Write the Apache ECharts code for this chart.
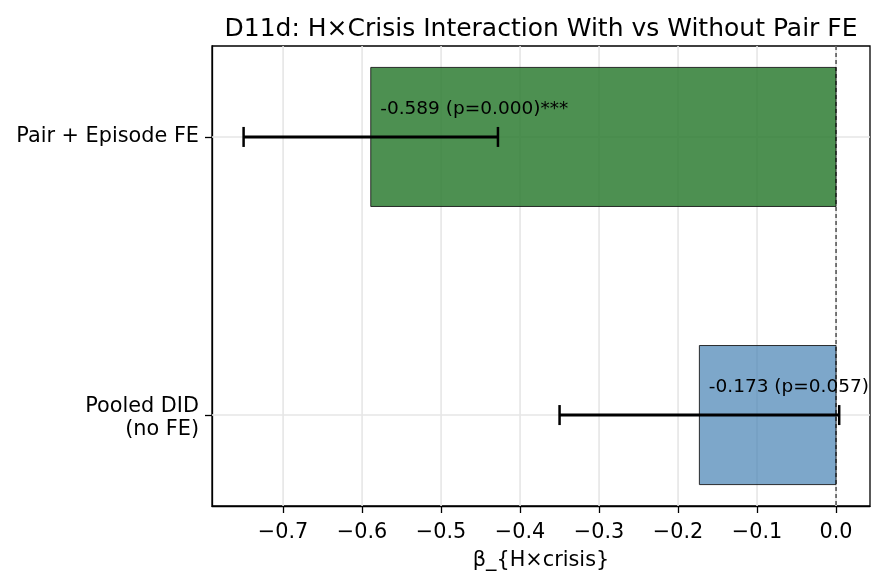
<!DOCTYPE html>
<html><head><meta charset="utf-8">
<script src="https://cdn.jsdelivr.net/npm/echarts@6/dist/echarts.min.js"></script>
<style>html,body{margin:0;padding:0;background:#fff}#c{width:886px;height:585px}</style>
</head><body><div id="c"></div>
<script>
const categories = ['Pooled DID\n(no FE)', 'Pair + Episode FE'];
const estimates = [-0.173, -0.589];
const ciLow = [-0.350, -0.750];
const ciHigh = [0.004, -0.428];
const pValues = [0.057, 0.000];
const stars = ['', '***'];
const barColors = ['rgba(70,130,180,0.7)', 'rgba(46,125,50,0.85)'];
const xTicks = [-0.7, -0.6, -0.5, -0.4, -0.3, -0.2, -0.1, 0.0];
const yTicks = [0, 1];

const FONT = 'DejaVu Sans';
const chart = echarts.init(document.getElementById('c'), null, {renderer: 'canvas'});
const fmtX = v => (Math.abs(v) < 1e-9 ? '0.0' : v.toFixed(1).replace('-', '\u2212'));
const fmtY = v => {
  const lines = categories[Math.round(v)].split('\n');
  if (lines.length === 1) return '{s|' + lines[0] + '}';
  return '{e| }\n' + lines.map(l => '{s|' + l + '}').join('\n');
};

const option = {
  animation: false,
  backgroundColor: '#fff',
  title: {
    text: 'D11d: H\u00d7Crisis Interaction With vs Without Pair FE',
    left: 536, top: 12, textAlign: 'center',
    textStyle: {fontFamily: FONT, fontSize: 25, fontWeight: 'normal', color: '#000'}
  },
  grid: {left: 212, right: 16, top: 46, bottom: 79, show: true, borderColor: '#000', borderWidth: 1.3, backgroundColor: 'transparent'},
  xAxis: {
    type: 'value', min: -0.79, max: 0.043,
    name: '\u03b2_{H\u00d7crisis}', nameLocation: 'middle', nameGap: 44,
    nameTextStyle: {fontFamily: FONT, fontSize: 20.8, color: '#000'},
    axisLine: {show: true, onZero: false, lineStyle: {color: '#000', width: 1.3}},
    axisTick: {show: true, length: 7, customValues: xTicks, lineStyle: {color: '#000', width: 1.3}},
    axisLabel: {customValues: xTicks, formatter: fmtX, margin: 16, fontFamily: FONT, fontSize: 20.8, color: '#000'},
    splitLine: {show: false}
  },
  yAxis: {
    type: 'value', min: -0.327, max: 1.327,
    axisLine: {show: true, onZero: false, lineStyle: {color: '#000', width: 1.3}},
    axisTick: {show: true, length: 7, customValues: yTicks, lineStyle: {color: '#000', width: 1.3}},
    axisLabel: {
      customValues: yTicks, formatter: fmtY, margin: 13, color: '#000', align: 'right',
      rich: {
        s: {fontFamily: FONT, fontSize: 20.8, color: '#000', lineHeight: 23, align: 'right'},
        e: {fontFamily: FONT, fontSize: 4, color: '#000', lineHeight: 7, align: 'right'}
      }
    },
    splitLine: {show: false}
  },
  series: [
    {
      type: 'custom', z: 1, silent: true,
      data: xTicks.map(x => [x, 0]),
      renderItem: (params, api) => {
        const cs = params.coordSys;
        const p = api.coord([api.value(0), 0]);
        return {type: 'line', shape: {x1: p[0], y1: cs.y, x2: p[0], y2: cs.y + cs.height}, style: {stroke: '#e6e6e6', lineWidth: 1.6}};
      }
    },
    {
      type: 'custom', z: 1, silent: true,
      data: yTicks.map(y => [0, y]),
      renderItem: (params, api) => {
        const cs = params.coordSys;
        const p = api.coord([0, api.value(1)]);
        return {type: 'line', shape: {x1: cs.x, y1: p[1], x2: cs.x + cs.width, y2: p[1]}, style: {stroke: '#e6e6e6', lineWidth: 1.6}};
      }
    },
    {
      type: 'custom', z: 2,
      data: estimates.map((v, i) => [v, i]),
      renderItem: (params, api) => {
        const v = api.value(0), c = api.value(1);
        const p0 = api.coord([0, c]), p1 = api.coord([v, c]);
        const h = api.size([0, 0.5])[1];
        return {
          type: 'rect',
          shape: {x: Math.min(p0[0], p1[0]), y: p0[1] - h / 2, width: Math.abs(p1[0] - p0[0]), height: h},
          style: {fill: barColors[params.dataIndex], stroke: '#1a1a1a', lineWidth: 0.9}
        };
      }
    },
    {
      type: 'custom', z: 3, silent: true,
      data: [[0]],
      renderItem: (params, api) => {
        const cs = params.coordSys;
        const p = api.coord([api.value(0), 0]);
        return {type: 'line', shape: {x1: p[0], y1: cs.y, x2: p[0], y2: cs.y + cs.height}, style: {stroke: '#000', lineWidth: 1, lineDash: [4, 3]}};
      }
    },
    {
      type: 'custom', z: 4,
      data: ciLow.map((lo, i) => [lo, ciHigh[i], i]),
      renderItem: (params, api) => {
        const lo = api.coord([api.value(0), api.value(2)]);
        const hi = api.coord([api.value(1), api.value(2)]);
        const cap = 10;
        return {type: 'group', children: [
          {type: 'line', shape: {x1: lo[0], y1: lo[1], x2: hi[0], y2: hi[1]}, style: {stroke: '#000', lineWidth: 3}},
          {type: 'line', shape: {x1: lo[0], y1: lo[1] - cap, x2: lo[0], y2: lo[1] + cap}, style: {stroke: '#000', lineWidth: 2.5}},
          {type: 'line', shape: {x1: hi[0], y1: hi[1] - cap, x2: hi[0], y2: hi[1] + cap}, style: {stroke: '#000', lineWidth: 2.5}}
        ]};
      }
    },
    {
      type: 'custom', z: 5,
      data: estimates.map((v, i) => [v, i]),
      renderItem: (params, api) => {
        const i = params.dataIndex;
        const p = api.coord([api.value(0) + 0.012, api.value(1) + 0.1]);
        return {
          type: 'text', x: p[0], y: p[1],
          style: {
            text: estimates[i].toFixed(3) + ' (p=' + pValues[i].toFixed(3) + ')' + stars[i],
            fontFamily: FONT, fontSize: 18.5, fill: '#000', align: 'left', verticalAlign: 'middle'
          }
        };
      }
    }
  ]
};
chart.setOption(option);
</script>
</body></html>
